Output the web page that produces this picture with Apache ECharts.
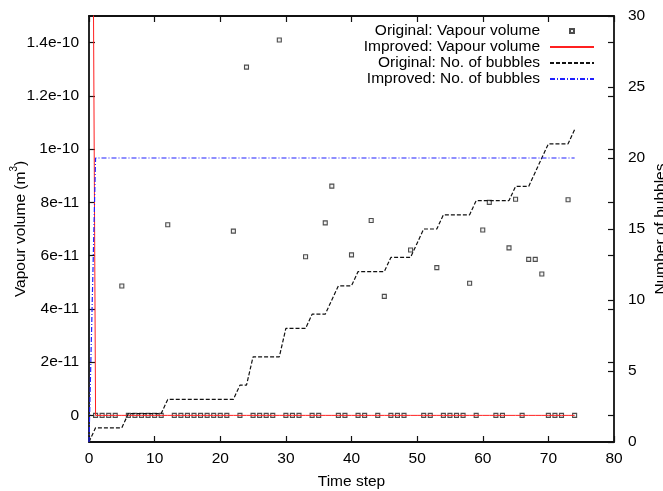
<!DOCTYPE html>
<html>
<head>
<meta charset="utf-8">
<script src="https://cdn.jsdelivr.net/npm/echarts@6/dist/echarts.min.js"></script>
<style>
html,body{margin:0;padding:0;background:#fff;}
#chart{width:663px;height:491px;}
</style>
</head>
<body>
<div id="chart"></div>
<script>
// Time steps 0..74
var timeSteps = [0,1,2,3,4,5,6,7,8,9,10,11,12,13,14,15,16,17,18,19,20,21,22,23,24,25,26,27,28,29,30,31,32,33,34,35,36,37,38,39,40,41,42,43,44,45,46,47,48,49,50,51,52,53,54,55,56,57,58,59,60,61,62,63,64,65,66,67,68,69,70,71,72,73,74];

// Original: Vapour volume (m^3)
var originalVapour = [null,0,0,0,0,4.86e-11,0,0,0,0,0,0,7.16e-11,0,0,0,0,0,0,0,0,0,6.92e-11,0,1.308e-10,0,0,0,0,1.41e-10,0,0,0,5.96e-11,0,0,7.23e-11,8.61e-11,0,0,6.03e-11,0,0,7.32e-11,0,4.47e-11,0,0,0,6.21e-11,null,0,0,5.55e-11,0,0,0,0,4.96e-11,0,6.96e-11,8.0e-11,0,0,6.29e-11,8.12e-11,0,5.86e-11,5.86e-11,5.31e-11,0,0,0,8.1e-11,0];

// Improved: Vapour volume (m^3)
var improvedVapour = [4.8e-10,0,0,0,0,0,0,0,0,0,0,0,0,0,0,0,0,0,0,0,0,0,0,0,0,0,0,0,0,0,0,0,0,0,0,0,0,0,0,0,0,0,0,0,0,0,0,0,0,0,0,0,0,0,0,0,0,0,0,0,0,0,0,0,0,0,0,0,0,0,0,0,0,0,0];

// Original: No. of bubbles
var originalBubbles = [0,1,1,1,1,1,2,2,2,2,2,2,3,3,3,3,3,3,3,3,3,3,3,4,4,6,6,6,6,6,8,8,8,8,9,9,9,10,11,11,11,12,12,12,12,12,13,13,13,13,14,15,15,15,16,16,16,16,16,17,17,17,17,17,17,18,18,18,19,20,21,21,21,21,22];

// Improved: No. of bubbles
var improvedBubbles = [0,20,20,20,20,20,20,20,20,20,20,20,20,20,20,20,20,20,20,20,20,20,20,20,20,20,20,20,20,20,20,20,20,20,20,20,20,20,20,20,20,20,20,20,20,20,20,20,20,20,20,20,20,20,20,20,20,20,20,20,20,20,20,20,20,20,20,20,20,20,20,20,20,20,20];

// Left axis tick values / labels
var leftTickValues = [0,2e-11,4e-11,6e-11,8e-11,1e-10,1.2e-10,1.4e-10];
var leftTickLabels = ['0','2e-11','4e-11','6e-11','8e-11','1e-10','1.2e-10','1.4e-10'];

function pairs(ys){
  var out = [];
  for (var i = 0; i < timeSteps.length; i++) out.push([timeSteps[i], ys[i]]);
  return out;
}

var FONT = 'Liberation Sans';
var FS = 15.5;
var chart = echarts.init(document.getElementById('chart'), null, {renderer:'canvas'});

var axisLineStyle = {color:'#111', width:1.8};
var tickStyle = {color:'#111', width:1.2};

var option = {
  animation:false,
  backgroundColor:'#fff',
  textStyle:{fontFamily:FONT},
  grid:{left:89, right:49, top:16, bottom:49, containLabel:false, outerBoundsMode:'none'},
  legend:[
    {
      data:['Original: Vapour volume'],
      orient:'vertical', align:'right',
      right:88, top:23, padding:0,
      itemWidth:4, itemHeight:4,
      textStyle:{fontFamily:FONT, fontSize:FS, color:'#000', padding:[0,25,0,0]},
      selectedMode:false
    },
    {
      data:['Improved: Vapour volume','Original: No. of bubbles','Improved: No. of bubbles'],
      orient:'vertical', align:'right',
      right:68, top:39, padding:0, itemGap:0,
      itemWidth:44, itemHeight:14,
      itemStyle:{opacity:0},
      textStyle:{fontFamily:FONT, fontSize:FS, color:'#000', padding:[0,5,0,0]},
      selectedMode:false
    }
  ],
  xAxis:[
    {
      type:'value', position:'bottom', min:0, max:80, interval:10,
      name:'Time step', nameLocation:'middle', nameGap:32, nameMoveOverlap:false,
      nameTextStyle:{fontFamily:FONT, fontSize:FS, color:'#000'},
      axisLine:{show:true, onZero:false, lineStyle:axisLineStyle},
      axisTick:{show:true, inside:true, length:6, lineStyle:tickStyle},
      axisLabel:{fontFamily:FONT, fontSize:FS, color:'#000', margin:9},
      splitLine:{show:false}
    },
    {
      type:'value', position:'top', min:0, max:80, interval:10,
      axisLine:{show:true, onZero:false, lineStyle:axisLineStyle},
      axisTick:{show:true, inside:true, length:6, lineStyle:tickStyle},
      axisLabel:{show:false},
      splitLine:{show:false}
    }
  ],
  yAxis:[
    {
      type:'value', position:'left', min:-1e-11, max:1.5e-10,
      name:'{a|Vapour volume (m}{s|3}{a|)}', nameLocation:'middle', nameGap:60, nameRotate:90,
      nameMoveOverlap:false,
      nameTextStyle:{
        rich:{
          a:{fontFamily:FONT, fontSize:FS, color:'#000', lineHeight:20, verticalAlign:'bottom'},
          s:{fontFamily:FONT, fontSize:10, color:'#000', lineHeight:20, verticalAlign:'top'}
        }
      },
      axisLine:{show:true, onZero:false, lineStyle:axisLineStyle},
      axisTick:{show:true, inside:true, length:6, lineStyle:tickStyle, customValues:leftTickValues},
      axisLabel:{
        fontFamily:FONT, fontSize:FS, color:'#000', margin:10,
        customValues:leftTickValues,
        formatter:function(v){
          var best = 0, bd = Infinity;
          for (var i = 0; i < leftTickValues.length; i++){
            var d = Math.abs(leftTickValues[i] - v);
            if (d < bd){ bd = d; best = i; }
          }
          return leftTickLabels[best];
        }
      },
      splitLine:{show:false}
    },
    {
      type:'value', position:'right', min:0, max:30, interval:5,
      name:'Number of bubbles', nameLocation:'middle', nameGap:39, nameRotate:90,
      nameMoveOverlap:false,
      nameTextStyle:{fontFamily:FONT, fontSize:FS, color:'#000'},
      axisLine:{show:true, onZero:false, lineStyle:axisLineStyle},
      axisTick:{show:true, inside:true, length:6, lineStyle:tickStyle},
      axisLabel:{fontFamily:FONT, fontSize:FS, color:'#000', margin:14},
      splitLine:{show:false}
    },
    {
      type:'value', position:'right', min:-1e-11, max:1.5e-10,
      axisLine:{show:false, onZero:false},
      axisTick:{show:true, inside:true, length:6, lineStyle:tickStyle, customValues:leftTickValues},
      axisLabel:{show:false},
      splitLine:{show:false}
    }
  ],
  series:[
    {
      name:'Original: Vapour volume', type:'scatter', xAxisIndex:0, yAxisIndex:0,
      data:pairs(originalVapour),
      symbol:'rect', symbolSize:4,
      itemStyle:{color:'#eee', borderColor:'#222', borderWidth:1.1},
      z:2
    },
    {
      name:'Improved: Vapour volume', type:'line', xAxisIndex:0, yAxisIndex:0,
      data:pairs(improvedVapour),
      symbol:'none', showSymbol:false,
      lineStyle:{color:'#ff2020', width:1},
      itemStyle:{color:'#ff2020'},
      z:3
    },
    {
      name:'Original: No. of bubbles', type:'line', xAxisIndex:0, yAxisIndex:1,
      data:pairs(originalBubbles),
      symbol:'none', showSymbol:false,
      lineStyle:{color:'#111', width:1.2, type:[4,2]},
      itemStyle:{color:'#111'},
      z:4
    },
    {
      name:'Improved: No. of bubbles', type:'line', xAxisIndex:0, yAxisIndex:1,
      data:pairs(improvedBubbles),
      symbol:'none', showSymbol:false,
      lineStyle:{color:'#2020ff', width:1.2, type:[5,2,1,2]},
      itemStyle:{color:'#2020ff'},
      z:5
    }
  ]
};
chart.setOption(option);
</script>
</body>
</html>
